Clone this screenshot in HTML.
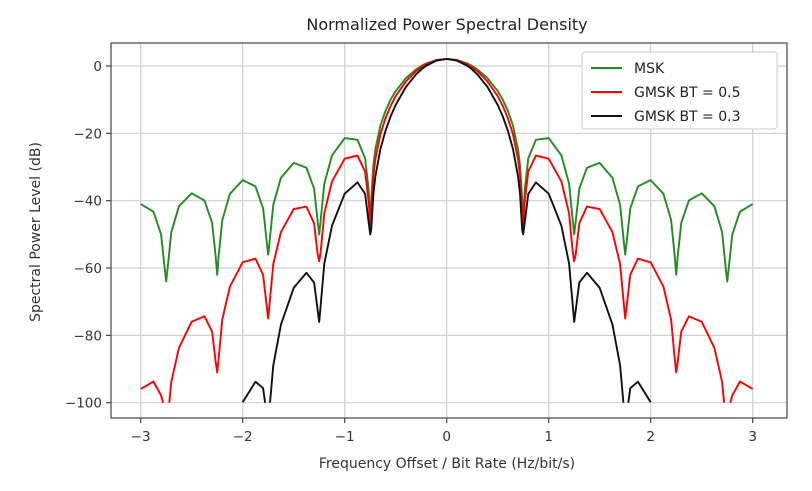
<!DOCTYPE html>
<html><head><meta charset="utf-8"><style>
html,body{margin:0;padding:0;background:#fff;}
svg{display:block;font-family:"DejaVu Sans","Liberation Sans",sans-serif;}
</style></head><body>
<svg width="812" height="491" xmlns="http://www.w3.org/2000/svg">
<defs><clipPath id="c"><rect x="111" y="43" width="676" height="360"/></clipPath></defs>
<rect x="0" y="0" width="812" height="491" fill="#fff"/>
<g stroke="#d0d0d0" stroke-width="1.2">
<line x1="140.7" y1="43" x2="140.7" y2="418"/><line x1="242.7" y1="43" x2="242.7" y2="418"/><line x1="344.7" y1="43" x2="344.7" y2="418"/><line x1="446.7" y1="43" x2="446.7" y2="418"/><line x1="548.7" y1="43" x2="548.7" y2="418"/><line x1="650.7" y1="43" x2="650.7" y2="418"/><line x1="752.7" y1="43" x2="752.7" y2="418"/>
<line x1="111" y1="66" x2="787" y2="66"/><line x1="111" y1="133.3" x2="787" y2="133.3"/><line x1="111" y1="200.7" x2="787" y2="200.7"/><line x1="111" y1="268" x2="787" y2="268"/><line x1="111" y1="335.4" x2="787" y2="335.4"/><line x1="111" y1="402.7" x2="787" y2="402.7"/>
</g>
<g clip-path="url(#c)" fill="none" stroke-width="1.9" stroke-linejoin="round">
<g id="R">
<polyline stroke="#228b22" points="446.7,58.9 456.9,60.0 467.1,63.4 472.2,66 477.3,69.3 487.5,78.1 497.7,91.1 502.8,99.7 507.9,110.8 513,125.6 518.1,149.5 520.1,166 522.2,199.7 523.2,231 524.7,190.1 528.3,158.3 535.95,139.8 548.7,138.1 561.45,155.6 569.1,183.7 572.7,220.1 574.2,234.4 575.7,221.6 579.3,188.6 586.95,167.8 599.7,162.9 612.45,177.9 620.1,204.8 623.7,240.6 625.2,254.6 626.7,241.7 630.3,208.2 637.95,186.4 650.7,180.1 663.45,193.8 671.1,220.1 674.7,255.7 676.2,274.8 677.7,256.5 681.3,222.7 688.95,200.4 701.7,193.3 714.45,206.3 722.1,232.2 725.7,267.7 727.2,281.5 728.7,268.3 732.3,234.4 739.95,211.7 752.7,204.1"/>
<polyline stroke="#ff0000" points="446.7,58.9 456.9,60.2 467.1,64.2 472.2,67.3 477.3,71.1 487.5,81.4 497.7,96.1 502.8,105.9 507.9,118.2 513,134.3 518.1,159.6 520.1,176.6 522.2,210.9 523.2,224.2 524.7,202.1 528.3,171.4 535.95,155.6 548.7,158.7 561.45,181.6 569.1,213.3 572.7,251.5 574.2,261.3 575.7,254.5 579.3,223.3 586.95,206.6 599.7,209.1 612.45,232.1 620.1,264.1 623.7,302.5 625.2,318.5 626.7,305.7 630.3,274.7 637.95,258.6 650.7,262.3 663.45,286.6 671.1,319.5 674.7,358.3 676.2,372.4 677.7,361.9 681.3,331.4 688.95,316.3 701.7,321.7 714.45,347.9 722.1,381.9 724.1,402.7"/>
<polyline stroke="#ff0000" points="730.3,402.7 732.3,395.4 739.95,381.5 752.7,388.9"/>
<polyline stroke="#111" points="446.7,58.9 456.9,60.6 467.1,65.6 472.2,69.5 477.3,74.3 487.5,87.0 497.7,104.9 502.8,116.5 507.9,130.8 513,149.1 518.1,176.8 520.1,194.8 522.2,230 523.2,234.3 524.7,222.6 528.3,193.8 535.95,182.4 548.7,193.7 561.45,225.9 569.1,263.7 572.7,304.9 574.2,321.9 575.7,310.5 579.3,282.5 586.95,272.8 599.7,287.9 612.45,324.6 620.1,365.3 623.4,402.7"/>
<polyline stroke="#111" points="628.3,402.7 630.3,388.2 637.95,381.7 650.7,402.3"/>
</g>
<g transform="matrix(-1 0 0 1 893.4 0)">
<polyline stroke="#228b22" points="446.7,58.9 456.9,60.0 467.1,63.4 472.2,66 477.3,69.3 487.5,78.1 497.7,91.1 502.8,99.7 507.9,110.8 513,125.6 518.1,149.5 520.1,166 522.2,199.7 523.2,231 524.7,190.1 528.3,158.3 535.95,139.8 548.7,138.1 561.45,155.6 569.1,183.7 572.7,220.1 574.2,234.4 575.7,221.6 579.3,188.6 586.95,167.8 599.7,162.9 612.45,177.9 620.1,204.8 623.7,240.6 625.2,254.6 626.7,241.7 630.3,208.2 637.95,186.4 650.7,180.1 663.45,193.8 671.1,220.1 674.7,255.7 676.2,274.8 677.7,256.5 681.3,222.7 688.95,200.4 701.7,193.3 714.45,206.3 722.1,232.2 725.7,267.7 727.2,281.5 728.7,268.3 732.3,234.4 739.95,211.7 752.7,204.1"/>
<polyline stroke="#ff0000" points="446.7,58.9 456.9,60.2 467.1,64.2 472.2,67.3 477.3,71.1 487.5,81.4 497.7,96.1 502.8,105.9 507.9,118.2 513,134.3 518.1,159.6 520.1,176.6 522.2,210.9 523.2,224.2 524.7,202.1 528.3,171.4 535.95,155.6 548.7,158.7 561.45,181.6 569.1,213.3 572.7,251.5 574.2,261.3 575.7,254.5 579.3,223.3 586.95,206.6 599.7,209.1 612.45,232.1 620.1,264.1 623.7,302.5 625.2,318.5 626.7,305.7 630.3,274.7 637.95,258.6 650.7,262.3 663.45,286.6 671.1,319.5 674.7,358.3 676.2,372.4 677.7,361.9 681.3,331.4 688.95,316.3 701.7,321.7 714.45,347.9 722.1,381.9 724.1,402.7"/>
<polyline stroke="#ff0000" points="730.3,402.7 732.3,395.4 739.95,381.5 752.7,388.9"/>
<polyline stroke="#111" points="446.7,58.9 456.9,60.6 467.1,65.6 472.2,69.5 477.3,74.3 487.5,87.0 497.7,104.9 502.8,116.5 507.9,130.8 513,149.1 518.1,176.8 520.1,194.8 522.2,230 523.2,234.3 524.7,222.6 528.3,193.8 535.95,182.4 548.7,193.7 561.45,225.9 569.1,263.7 572.7,304.9 574.2,321.9 575.7,310.5 579.3,282.5 586.95,272.8 599.7,287.9 612.45,324.6 620.1,365.3 623.4,402.7"/>
<polyline stroke="#111" points="628.3,402.7 630.3,388.2 637.95,381.7 650.7,402.3"/>
</g>
</g>
<rect x="111" y="43" width="676" height="375" fill="none" stroke="#444" stroke-width="1.2"/>
<g stroke="#444" stroke-width="1.2">
<line x1="140.7" y1="418" x2="140.7" y2="423"/><line x1="242.7" y1="418" x2="242.7" y2="423"/><line x1="344.7" y1="418" x2="344.7" y2="423"/><line x1="446.7" y1="418" x2="446.7" y2="423"/><line x1="548.7" y1="418" x2="548.7" y2="423"/><line x1="650.7" y1="418" x2="650.7" y2="423"/><line x1="752.7" y1="418" x2="752.7" y2="423"/>
<line x1="106" y1="66" x2="111" y2="66"/><line x1="106" y1="133.3" x2="111" y2="133.3"/><line x1="106" y1="200.7" x2="111" y2="200.7"/><line x1="106" y1="268" x2="111" y2="268"/><line x1="106" y1="335.4" x2="111" y2="335.4"/><line x1="106" y1="402.7" x2="111" y2="402.7"/>
</g>
<g font-size="13.5" fill="#333" text-anchor="middle">
<text x="140.7" y="441">−3</text><text x="242.7" y="441">−2</text><text x="344.7" y="441">−1</text><text x="446.7" y="441">0</text><text x="548.7" y="441">1</text><text x="650.7" y="441">2</text><text x="752.7" y="441">3</text>
</g>
<g font-size="13.5" fill="#333" text-anchor="end">
<text x="102" y="71">0</text><text x="102" y="138.3">−20</text><text x="102" y="205.7">−40</text><text x="102" y="273">−60</text><text x="102" y="340.4">−80</text><text x="102" y="407.7">−100</text>
</g>
<text x="447" y="30" font-size="16" text-anchor="middle" fill="#222">Normalized Power Spectral Density</text>
<text x="447" y="468" font-size="14" text-anchor="middle" fill="#333">Frequency Offset / Bit Rate (Hz/bit/s)</text>
<text transform="translate(40,232) rotate(-90)" font-size="14" text-anchor="middle" fill="#333">Spectral Power Level (dB)</text>
<rect x="582" y="52" width="195" height="77" fill="#fff" stroke="#ccc" rx="3"/>
<line x1="591" y1="68" x2="622" y2="68" stroke="#228b22" stroke-width="2"/>
<text x="634" y="73" font-size="14" fill="#222">MSK</text>
<line x1="591" y1="92" x2="622" y2="92" stroke="#f00" stroke-width="2"/>
<text x="634" y="97" font-size="14" fill="#222">GMSK BT = 0.5</text>
<line x1="591" y1="116" x2="622" y2="116" stroke="#111" stroke-width="2"/>
<text x="634" y="121" font-size="14" fill="#222">GMSK BT = 0.3</text>
</svg>
</body></html>
